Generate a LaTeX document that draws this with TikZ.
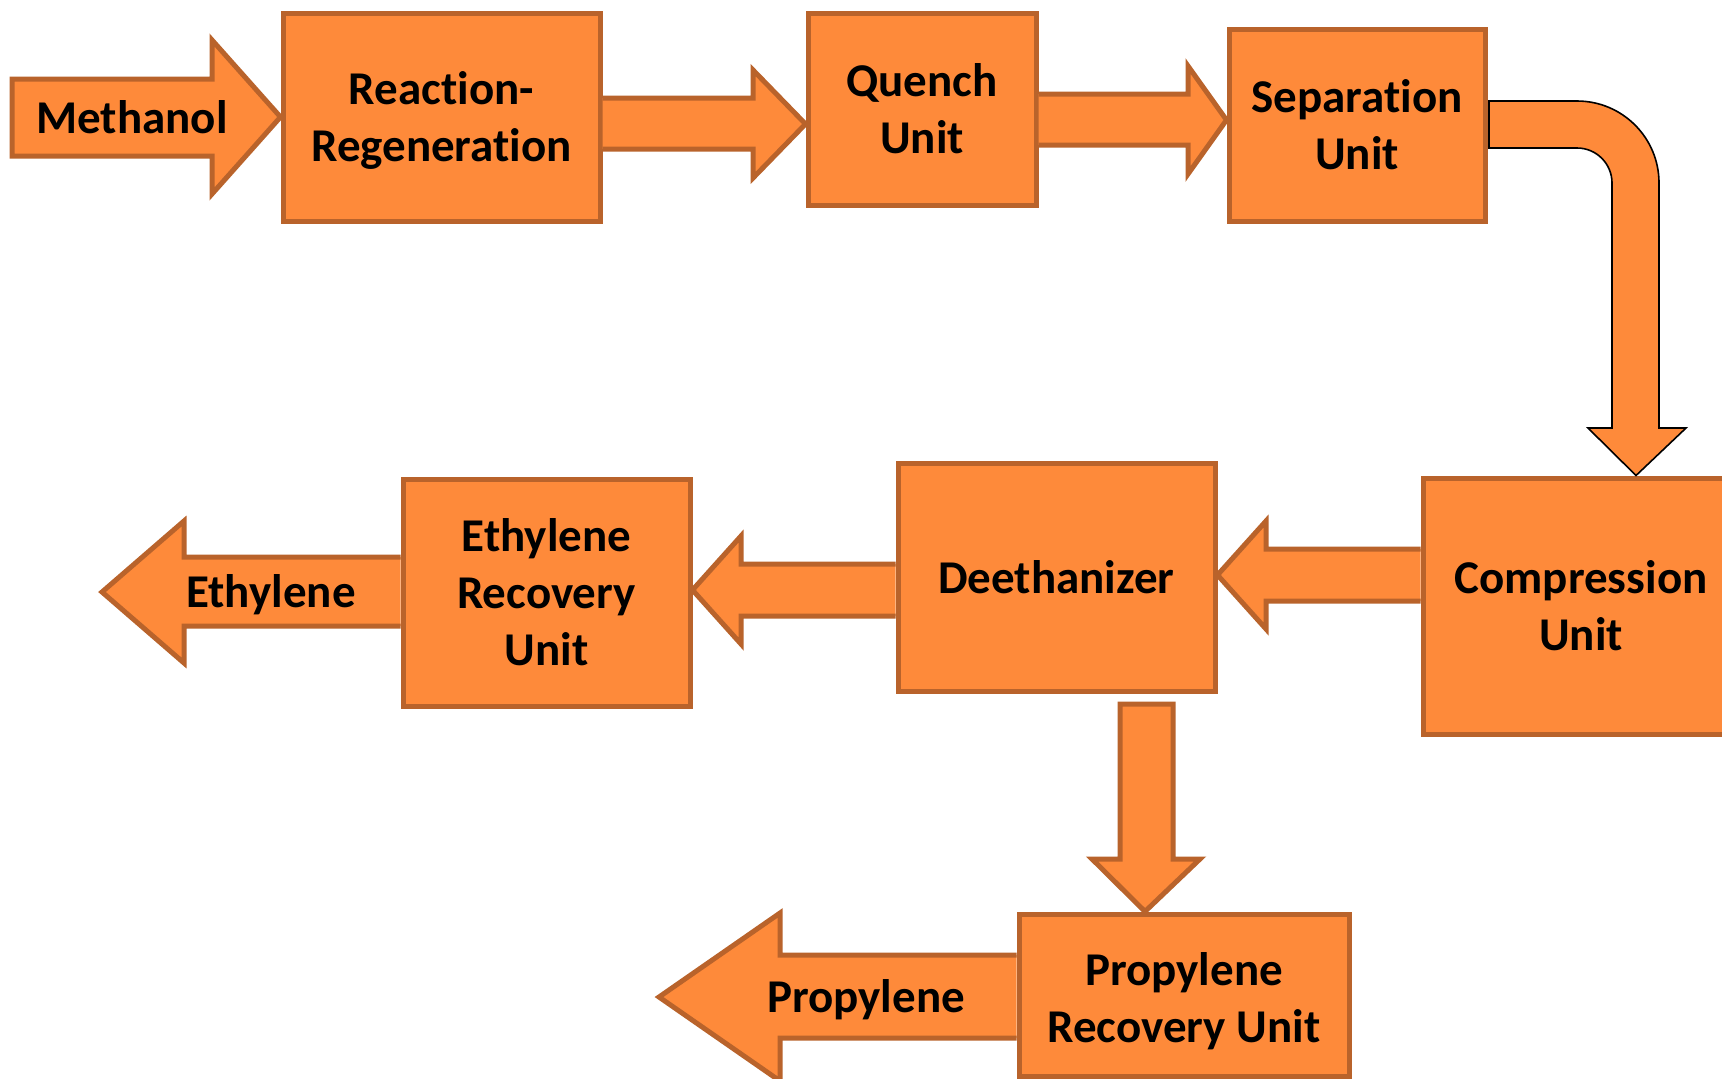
\documentclass[tikz,border=0pt]{standalone}
\usepackage{fontspec}
\setmainfont{Carlito}[Ligatures={NoCommon}]
\definecolor{fillor}{HTML}{FE8A3A}
\definecolor{lineor}{HTML}{B9632B}
\begin{document}
\begin{tikzpicture}[x=0.5pt,y=-0.5pt,
  unitbox/.style={draw=lineor,line width=2.5pt,fill=fillor,inner sep=0pt,align=center,
    font=\fontsize{23.5}{28.5}\selectfont\bfseries},
  blockarrow/.style={draw=lineor,line width=2.5pt,fill=fillor,line join=miter},
  bentarrow/.style={draw=black,line width=0.8pt,fill=fillor,line join=miter},
  lbl/.style={inner sep=0pt,align=center,font=\fontsize{23.5}{28.5}\selectfont\bfseries}]
\useasboundingbox (0,0) rectangle (1722,1078);
\clip (0,0) rectangle (1722,1078);

% boxes
\node[unitbox,minimum width=158.5pt,minimum height=104pt] (rr) at (441.5,117) {\raisebox{-2.2pt}[\height][\depth]{\begin{tabular}{@{}c@{}}Reaction-\\Regeneration\end{tabular}}};
\node[unitbox,minimum width=114pt,minimum height=96pt] (qu) at (922,109) {Quench\\Unit};
\node[unitbox,minimum width=128pt,minimum height=96pt] (se) at (1357,125) {Separation\\Unit};
\node[unitbox,minimum width=158pt,minimum height=128pt] (co) at (1581,606) {Compression\\Unit};
\node[unitbox,minimum width=158.5pt,minimum height=114pt] (de) at (1056.5,577) {Deethanizer};
\node[unitbox,minimum width=143.5pt,minimum height=113.5pt] (er) at (546.5,592.5) {Ethylene\\Recovery\\Unit};
\node[unitbox,minimum width=165pt,minimum height=81pt] (pr) at (1184,995) {\raisebox{-3.85pt}[\height][\depth]{\begin{tabular}{@{}c@{}}Propylene\\Recovery Unit\end{tabular}}};

% Methanol arrow
\draw[blockarrow] (12,79) -- (212,79) -- (212,40) -- (rr.west) -- (212,194) -- (212,156) -- (12,156) -- cycle;
\node[lbl] (meth) at (132,117) {Methanol};

% RR -> Quench
\draw[blockarrow] (rr.east |- 0,98) -- (753,98) -- (753,70) -- (qu.west |- 0,124) -- (753,178) -- (753,149) -- (rr.east |- 0,149);

% Quench -> Separation
\draw[blockarrow] (qu.east |- 0,94) -- (1188,94) -- (1188,66) -- (se.west |- 0,120) -- (1188,174) -- (1188,145) -- (qu.east |- 0,145);

% Separation -> Compression (bent arrow)
\coordinate (bentstart) at (1489,101);
\draw[bentarrow] (bentstart) -- (1577,101) arc[start angle=-90,end angle=0,radius=82]
  -- (1659,428) -- (1686,428) -- (co.north -| 1636,0) -- (1588,428) -- (1612,428) -- (1612,183)
  arc[start angle=0,end angle=-90,radius=35] -- (1489,148) -- cycle;

% Compression -> Deethanizer
\draw[blockarrow] (co.west |- 0,549) -- (1266,549) -- (1266,521) -- (de.east |- 0,575) -- (1266,629) -- (1266,601) -- (co.west |- 0,601);

% Deethanizer -> Ethylene Recovery
\draw[blockarrow] (de.west |- 0,564) -- (741,564) -- (741,536) -- (er.east |- 0,590) -- (741,644) -- (741,616) -- (de.west |- 0,616);

% Ethylene arrow
\draw[blockarrow] (er.west |- 0,557) -- (184,557) -- (184,521) -- (102,592) -- (184,663) -- (184,626) -- (er.west |- 0,626);
\node[lbl] (ethl) at (271,595) {Ethylene};

% Deethanizer -> Propylene Recovery
\draw[blockarrow] (1120,704) -- (1173,704) -- (1173,859) -- (1200,859) -- (pr.north -| 1145,0) -- (1092,859) -- (1120,859) -- cycle;

% Propylene arrow
\draw[blockarrow] (pr.west |- 0,955) -- (780,955) -- (780,913) -- (659,997) -- (780,1081) -- (780,1038) -- (pr.west |- 0,1038);
\node[lbl] (prol) at (866,1000) {Propylene};
\end{tikzpicture}
\end{document}
